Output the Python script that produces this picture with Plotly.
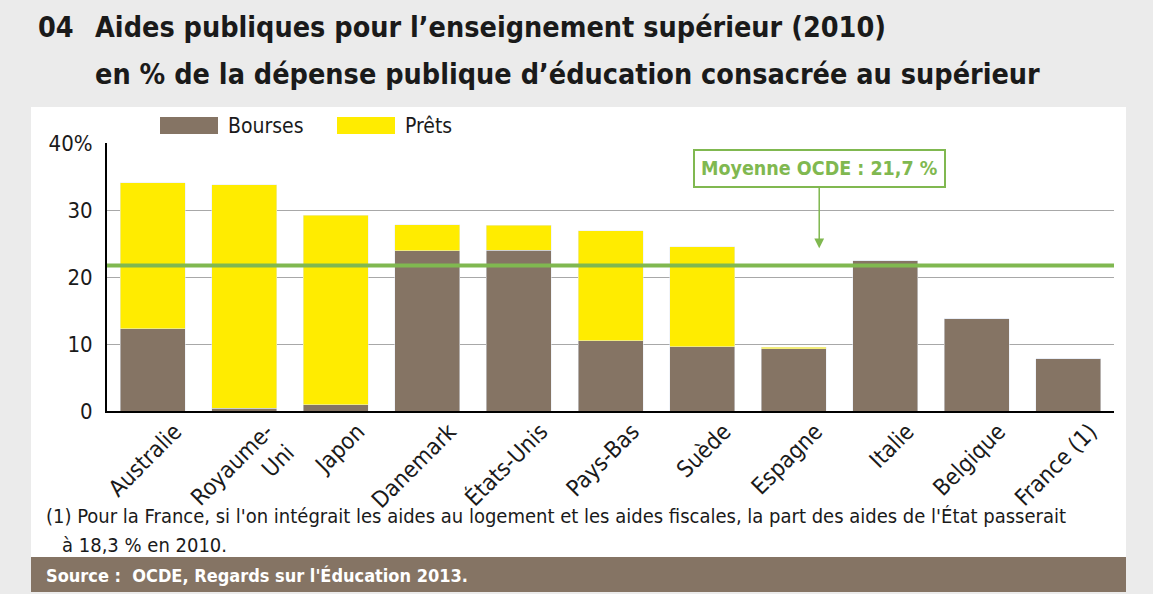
import plotly.graph_objects as go

# Data
pays = ["Australie", "Royaume-<br>Uni", "Japon", "Danemark", "États-Unis", "Pays-Bas",
        "Suède", "Espagne", "Italie", "Belgique", "France (1)"]
bourses = [12.3, 0.4, 0.9, 23.9, 24.0, 10.5, 9.6, 9.3, 22.4, 13.8, 7.8]
prets = [21.8, 33.4, 28.3, 3.9, 3.7, 16.4, 14.9, 0.2, 0.0, 0.0, 0.0]
moyenne_ocde = 21.7
y_ticks = [0, 10, 20, 30, 40]
y_labels = ["0", "10", "20", "30", "40%"]

BROWN = "#857464"
YELLOW = "#ffec00"
GREEN = "#80b850"
FONT = "Liberation Sans Narrow, Arial Narrow, DejaVu Sans Condensed, sans-serif"

W, H = 1153, 594
L, R, T, B = 107, 1114, 143, 411


def px_x(p):
    return (p - L) / (R - L)


def px_y(p):
    return (B - p) / (B - T)


fig = go.Figure()
fig.add_trace(go.Bar(x=pays, y=bourses, name="Bourses", marker_color=BROWN))
fig.add_trace(go.Bar(x=pays, y=prets, name="Prêts", marker_color=YELLOW))

shapes = [
    # white panel + footer band
    dict(type="rect", xref="paper", yref="paper", layer="below",
         x0=px_x(31), x1=px_x(1126), y0=px_y(557), y1=px_y(107),
         fillcolor="white", line_width=0),
    dict(type="rect", xref="paper", yref="paper", layer="below",
         x0=px_x(31), x1=px_x(1126), y0=px_y(592), y1=px_y(557),
         fillcolor=BROWN, line_width=0),
    # OECD mean
    dict(type="line", xref="paper", yref="y", x0=0, x1=1,
         y0=moyenne_ocde, y1=moyenne_ocde, line=dict(color=GREEN, width=4)),
    # legend swatches
    dict(type="rect", xref="paper", yref="paper",
         x0=px_x(160), x1=px_x(218), y0=px_y(134), y1=px_y(117),
         fillcolor=BROWN, line_width=0),
    dict(type="rect", xref="paper", yref="paper",
         x0=px_x(337), x1=px_x(395), y0=px_y(134), y1=px_y(117),
         fillcolor=YELLOW, line_width=0),
]

annotations = [
    dict(text="04", x=px_x(36), y=px_y(28), xref="paper", yref="paper",
         xanchor="left", yanchor="middle", showarrow=False,
         font=dict(size=28.5, color="#1a1a1a", family=FONT, weight="bold")),
    dict(text="Aides publiques pour l’enseignement supérieur (2010)",
         x=px_x(93), y=px_y(28), xref="paper", yref="paper",
         xanchor="left", yanchor="middle", showarrow=False,
         font=dict(size=28.5, color="#1a1a1a", family=FONT, weight="bold")),
    dict(text="en % de la dépense publique d’éducation consacrée au supérieur",
         x=px_x(93), y=px_y(75), xref="paper", yref="paper",
         xanchor="left", yanchor="middle", showarrow=False,
         font=dict(size=28.5, color="#1a1a1a", family=FONT, weight="bold")),
    dict(text="Bourses", x=px_x(226), y=px_y(126), xref="paper", yref="paper",
         xanchor="left", yanchor="middle", showarrow=False,
         font=dict(size=21, color="#1a1a1a", family=FONT)),
    dict(text="Prêts", x=px_x(403), y=px_y(126), xref="paper", yref="paper",
         xanchor="left", yanchor="middle", showarrow=False,
         font=dict(size=21, color="#1a1a1a", family=FONT)),
    dict(text="Moyenne OCDE : 21,7 %", x=7.28, y=24.3, xref="x", yref="y",
         ax=0, ay=-80, showarrow=True, arrowhead=2, arrowsize=1.3, arrowwidth=1.5,
         arrowcolor=GREEN, bordercolor=GREEN, borderwidth=2, borderpad=6,
         bgcolor="white", font=dict(size=19.5, color=GREEN, family=FONT, weight="bold")),
    dict(text="(1) Pour la France, si l'on intégrait les aides au logement et les aides fiscales, "
              "la part des aides de l'État passerait",
         x=px_x(44), y=px_y(516), xref="paper", yref="paper",
         xanchor="left", yanchor="middle", showarrow=False,
         font=dict(size=20, color="#1a1a1a", family=FONT)),
    dict(text="à 18,3 % en 2010.", x=px_x(60), y=px_y(545), xref="paper", yref="paper",
         xanchor="left", yanchor="middle", showarrow=False,
         font=dict(size=20, color="#1a1a1a", family=FONT)),
    dict(text="Source :  OCDE, Regards sur l'Éducation 2013.",
         x=px_x(44), y=px_y(575), xref="paper", yref="paper",
         xanchor="left", yanchor="middle", showarrow=False,
         font=dict(size=18, color="white", family=FONT, weight="bold")),
]

fig.update_layout(
    width=W, height=H,
    margin=dict(l=L, r=W - R, t=T, b=H - B),
    paper_bgcolor="#ebebeb", plot_bgcolor="white",
    barmode="stack", bargap=0.29, showlegend=False,
    font=dict(family=FONT, size=18, color="#1a1a1a"),
    shapes=shapes, annotations=annotations,
)
fig.update_xaxes(tickangle=-45, showline=True, linecolor="black", linewidth=2,
                 ticks="", ticklabelshift=22, ticklabelstandoff=-4,
                 tickfont=dict(size=23, family=FONT))
fig.update_yaxes(range=[0, 40], tickvals=y_ticks, ticktext=y_labels,
                 showgrid=True, gridcolor="#a8a8a8", gridwidth=1,
                 showline=True, linecolor="black", linewidth=2, zeroline=False,
                 ticks="", ticklabelstandoff=8, tickfont=dict(size=22, family=FONT))

fig.write_html("out.html", config={"displayModeBar": False},
               post_script="document.body.style.margin='0';")
